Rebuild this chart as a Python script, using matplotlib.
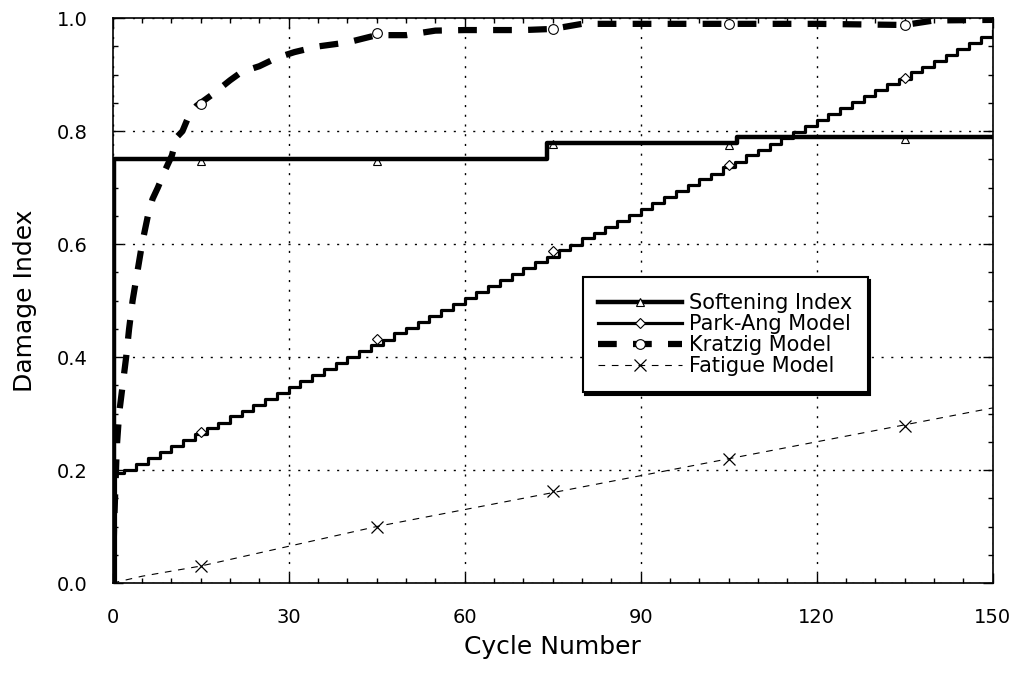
import matplotlib.pyplot as plt
from matplotlib.lines import Line2D
from matplotlib.ticker import MultipleLocator

plt.rcParams['font.family'] = ['DejaVu Sans']

# values
marker_cycles = [15, 45, 75, 105, 135]

soft_cycles = [0, 0.3, 74, 106.5, 150]
soft_values = [0.0, 0.75, 0.779, 0.789, 0.789]
soft_marks = [0.748, 0.748, 0.777, 0.776, 0.786]

park_cycles = [0, 0.4] + list(range(2, 151, 2))
park_values = [0.0, 0.195,
               0.200, 0.211, 0.221, 0.232, 0.242, 0.253, 0.263, 0.274, 0.284, 0.295,
               0.305, 0.316, 0.326, 0.337, 0.347, 0.358, 0.368, 0.379, 0.389, 0.400,
               0.410, 0.421, 0.431, 0.442, 0.452, 0.463, 0.473, 0.484, 0.494, 0.505,
               0.515, 0.526, 0.536, 0.547, 0.557, 0.568, 0.578, 0.589, 0.599, 0.610,
               0.620, 0.631, 0.641, 0.652, 0.662, 0.673, 0.683, 0.694, 0.704, 0.715,
               0.725, 0.736, 0.746, 0.757, 0.767, 0.778, 0.788, 0.799, 0.809, 0.820,
               0.830, 0.841, 0.851, 0.862, 0.872, 0.883, 0.893, 0.904, 0.914, 0.925,
               0.935, 0.946, 0.956, 0.967, 0.977]
park_marks = [0.268, 0.432, 0.588, 0.740, 0.895]

kratzig_cycles = [0, 0.3, 0.7, 1.1, 1.7, 2.3, 2.8, 3.4, 4.2, 5.0, 6.0, 6.8, 7.7, 8.9,
                  10.1, 10.9, 11.9, 13.1, 14.3, 15, 17, 20, 22, 25, 28, 31, 35, 40,
                  45, 50, 55, 60, 70, 75, 80, 90, 100, 110, 120, 135, 140, 150]
kratzig_values = [0.0, 0.12, 0.24, 0.30, 0.35, 0.40, 0.45, 0.50, 0.55, 0.60, 0.65, 0.68,
                  0.70, 0.73, 0.757, 0.789, 0.80, 0.83, 0.845, 0.85, 0.865, 0.89, 0.905,
                  0.915, 0.93, 0.94, 0.95, 0.957, 0.97, 0.97, 0.978, 0.979, 0.979, 0.981,
                  0.99, 0.99, 0.99, 0.99, 0.99, 0.988, 0.996, 0.997]
kratzig_marks = [0.848, 0.973, 0.981, 0.99, 0.988]

fatigue_cycles = [0, 5, 15, 30, 45, 60, 75, 90, 105, 120, 135, 150]
fatigue_values = [0.0, 0.012, 0.03, 0.065, 0.10, 0.13, 0.16, 0.19, 0.22, 0.25, 0.28, 0.31]
fatigue_marks = [0.03, 0.10, 0.163, 0.219, 0.278]

fig = plt.figure(figsize=(10.15, 6.74), dpi=100)
ax = fig.add_axes([0.111, 0.135, 0.867, 0.838])

soft_style = dict(color='black', lw=3.2)
park_style = dict(color='black', lw=2.3)
kratzig_style = dict(color='black', lw=4.5, dashes=(3.0, 2.6))
fatigue_style = dict(color='black', lw=0.8, dashes=(6, 6))

ax.plot(soft_cycles, soft_values, drawstyle='steps-post', zorder=4, **soft_style)
ax.plot(marker_cycles, soft_marks, ls='none', marker='^', ms=6, mfc='white', mec='black', mew=0.8, zorder=3)

ax.plot(park_cycles, park_values, drawstyle='steps-post', zorder=4, **park_style)
ax.plot(marker_cycles, park_marks, ls='none', marker='D', ms=5, mfc='white', mec='black', mew=0.8, zorder=5)

ax.plot(kratzig_cycles, kratzig_values, zorder=4, **kratzig_style)
ax.plot(marker_cycles, kratzig_marks, ls='none', marker='o', ms=7, mfc='white', mec='black', mew=0.8, zorder=5)

ax.plot(fatigue_cycles, fatigue_values, zorder=4, **fatigue_style)
ax.plot(marker_cycles, fatigue_marks, ls='none', marker='x', ms=8, color='black', mew=0.9, zorder=5)

ax.set_xlim(0, 150)
ax.set_ylim(0, 1.0)
ax.xaxis.set_major_locator(MultipleLocator(30))
ax.xaxis.set_minor_locator(MultipleLocator(5))
ax.yaxis.set_major_locator(MultipleLocator(0.2))
ax.yaxis.set_minor_locator(MultipleLocator(0.05))
ax.yaxis.set_major_formatter(plt.FuncFormatter(lambda v, p: f'{v:.1f}'))
ax.tick_params(which='both', direction='in', top=True, right=True, labelsize=14, width=1)
ax.tick_params(which='major', length=7, pad=18)
ax.tick_params(which='minor', length=3.5)
ax.grid(True, which='major', color='black', ls=(0, (1.5, 5.5)), lw=1.0)
for s in ax.spines.values():
    s.set_linewidth(1.2)

ax.set_xlabel('Cycle Number', fontsize=18, labelpad=6)
ax.set_ylabel('Damage Index', fontsize=18, labelpad=14)

handles = [
    Line2D([], [], marker='^', ms=6, mfc='white', mec='black', mew=0.8, **soft_style),
    Line2D([], [], marker='D', ms=5, mfc='white', mec='black', mew=0.8, **park_style),
    Line2D([], [], marker='o', ms=7, mfc='white', mec='black', mew=0.8, **kratzig_style),
    Line2D([], [], marker='x', ms=8, mew=0.9, **fatigue_style),
]
labels = ['Softening Index', 'Park-Ang Model', 'Kratzig Model', 'Fatigue Model']
leg = ax.legend(handles, labels, loc='upper left', bbox_to_anchor=(0.534, 0.541),
                fontsize=15, handlelength=4.0, frameon=True, fancybox=False,
                edgecolor='black', borderpad=0.75, labelspacing=0.05, handletextpad=0.35,
                borderaxespad=0, shadow={'color': 'black', 'alpha': 1})
leg.get_frame().set_linewidth(1.5)

fig.savefig('out.png', dpi=100)
